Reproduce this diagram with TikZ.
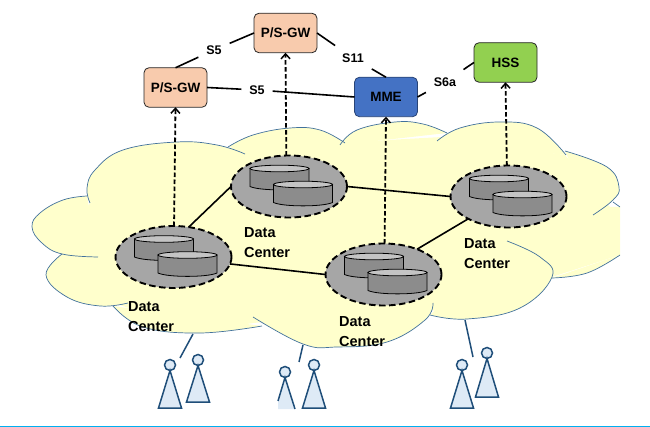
\documentclass[tikz,border=0pt]{standalone}
\usepackage{fontspec}
\setmainfont{Liberation Sans}
\usetikzlibrary{shapes.geometric,arrows.meta}
\definecolor{cloudfill}{HTML}{FFFFCC}
\definecolor{cloudline}{HTML}{41719C}
\definecolor{gwfill}{HTML}{F8CBAD}
\definecolor{mmefill}{HTML}{4472C4}
\definecolor{hssfill}{HTML}{92D050}
\definecolor{uecol}{HTML}{1F4E79}
\definecolor{uefill}{HTML}{DEEAF6}
\definecolor{dcfill}{HTML}{A6A6A6}
\definecolor{cylbody}{HTML}{8C8C8C}
\definecolor{cyltop}{HTML}{C4C4C4}
\definecolor{rulecol}{HTML}{00B0F0}
\tikzset{
  netbox/.style={draw=black!85,line width=.8pt,rounded corners=5pt,minimum width=63pt,minimum height=39.5pt,inner sep=0pt,outer sep=0pt,font=\fontsize{13.5}{15}\selectfont\bfseries},
  ifacelabel/.style={inner sep=8pt,outer sep=0pt,font=\fontsize{12.5}{13}\selectfont\bfseries},
  dcenter/.style={ellipse,draw=black,fill=dcfill,line width=1.9pt,dash pattern=on 6.5pt off 3.5pt,minimum width=116pt,minimum height=62pt,inner sep=0pt,outer sep=0pt},
  dclabel/.style={anchor=north west,inner sep=0pt,align=left,font=\fontsize{14.5}{20}\selectfont\bfseries},
  iface/.style={draw=black,line width=1.6pt},
  sigarrow/.style={draw=black,line width=1.8pt,dash pattern=on 4.5pt off 2.5pt,-{Straight Barb[length=5pt,width=9pt,line width=1.5pt]}},
  uebody/.style={draw=uecol,fill=uefill,line width=1.5pt,line join=miter},
  uehead/.style={circle,draw=uecol,fill=uefill,line width=1.5pt,minimum size=11pt,inner sep=0pt,outer sep=0pt},
  ueconn/.style={draw=uecol,line width=1.5pt}
}
\newcommand{\cylinder}[2]{%
  \draw[black,line width=.8pt,fill=cylbody] (#1-29.5,#2) -- (#1-29.5,#2+18) .. controls (#1-20,#2+22.5) and (#1+20,#2+22.5) .. (#1+29.5,#2+18) -- (#1+29.5,#2) -- cycle;
  \draw[black,line width=.8pt,fill=cyltop] (#1,#2) ellipse[x radius=29.5pt,y radius=3.3pt];
}
\newcommand{\servers}[2]{%
  \cylinder{#1-9.5}{#2-18}
  \cylinder{#1+14}{#2-2}
}
\newcommand{\lobefill}[1]{\fill[cloudfill] plot[smooth,tension=.7] coordinates {#1} -- cycle;}
\newcommand{\lobeline}[1]{\draw[cloudline,line width=.7pt] plot[smooth,tension=.7] coordinates {#1};}
\newcommand{\alllobes}[1]{%
 #1{(90,203)(87,188)(95,170)(123,150)(177,142)(217,145)(245,154)}
 #1{(87,196)(63,200)(40,213)(32,227)(42,243)(62,254)(98,257)}
 #1{(62,254)(46,275)(67,297)(100,306)(128,303)}
 #1{(113,306)(143,327)(200,333)(262,326)}
 #1{(253,317)(303,344)(337,347)(387,342)(425,320)(433,303)}
 #1{(430,315)(467,319)(520,308)(552,277)(540,257)(507,241)}
 #1{(552,278)(587,273)(620,255)}
 #1{(593,215)(613,200)(619,187)(607,167)(565,151)}
 #1{(613,202)(620,207)}
 #1{(437,141)(460,128)(500,122)(537,128)(566,155)}
 #1{(340,145)(357,130)(395,122)(423,124)(447,133)}
 #1{(228,147)(253,135)(290,128)(320,130)(345,143)}
}
\begin{document}
\begin{tikzpicture}[x=1pt,y=-1pt]
\useasboundingbox (0,0) rectangle (650,427);
\fill[cloudfill] (90,203) -- (235,146) -- (342,142.5) -- (442,137) -- (565,155) -- (610,207) -- (620,207) -- (620,255) -- (552,277) -- (467,315) -- (430,310) -- (337,342) -- (262,322) -- (200,330) -- (113,303) -- (62,254) -- cycle;
\alllobes{\lobefill}
\alllobes{\lobeline}
% data centres
\node[dcenter] (dc1) at (173.5,257) {};
\node[dcenter] (dc2) at (289,186.5) {};
\node[dcenter] (dc3) at (383.5,274.5) {};
\node[dcenter] (dc4) at (508.5,196.5) {};
\servers{173.5}{257}
\servers{289}{186.5}
\servers{383.5}{274.5}
\servers{508.5}{196.5}
\node[dclabel] (dl1) at (128,301) {Data\\Center};
\node[dclabel] (dl2) at (244,227) {Data\\Center};
\node[dclabel] (dl3) at (339,316) {Data\\Center};
\node[dclabel] (dl4) at (464,238) {Data\\Center};
\draw[iface] (dc1.63) -- (dc2.180);
\draw[iface] (dc1.-7) -- (dc3.180);
\draw[iface] (dc2.0) -- (dc4.180);
\draw[iface] (dc3.37) -- (dc4.209);
% core boxes
\node[netbox,fill=gwfill] (gw1) at (175.5,87.5) {P/S-GW};
\node[netbox,fill=gwfill] (gw2) at (285.5,33) {P/S-GW};
\node[netbox,fill=mmefill,draw=mmefill!60!black] (mme) at (386,97) {MME};
\node[netbox,fill=hssfill] (hss) at (505.5,62.5) {HSS};
\draw[sigarrow] (dc1.89) -- (gw1.south);
\draw[sigarrow] (dc2.95) -- (gw2.south);
\draw[sigarrow] (dc3.88) -- (mme.south);
\draw[sigarrow] (dc4.93) -- (hss.south);
\node[ifacelabel] (s5a) at (214,50) {S5};
\node[ifacelabel] (s5b) at (257,90) {S5};
\node[ifacelabel] (s11) at (353,58) {S11};
\node[ifacelabel] (s6a) at (445,82) {S6a};
\draw[iface] (gw2.west) -- (s5a);
\draw[iface] (s5a) -- (gw1.north);
\draw[iface] (gw1.east) -- (s5b);
\draw[iface] (s5b) -- (mme.west);
\draw[iface] (gw2.east) -- (s11);
\draw[iface] (s11) -- (mme.north);
\draw[iface] (mme.east) -- (s6a);
\draw[iface] (s6a) -- (hss.west);
% users
\coordinate (c1) at (193,334); \coordinate (u1) at (180,358);
\coordinate (c2) at (303,345); \coordinate (u2) at (299,362);
\coordinate (c3) at (465,320); \coordinate (u3) at (473,357);
\draw[ueconn] (c1) -- (u1);
\draw[ueconn] (c2) -- (u2);
\draw[ueconn] (c3) -- (u3);
\foreach \n/\x/\y/\b in {a/170/365/408,b/198/360/402,d/314/365/408,e/462/365/408,f/487/353/397}{
  \node[uehead] (h\n) at (\x,\y) {};
  \draw[uebody] (h\n.south) -- (\x-11.5,\b) -- (\x+11.5,\b) -- cycle;
}
\node[uehead] (hc) at (285,372) {};
\fill[uefill] (hc.south) -- (278,401) -- (278,409) -- (295,409) -- cycle;
\draw[ueconn] (278,401) -- (hc.south) -- (295,409);
\draw[rulecol,line width=1pt] (0,426.3) -- (650,426.3);
\end{tikzpicture}
\end{document}
